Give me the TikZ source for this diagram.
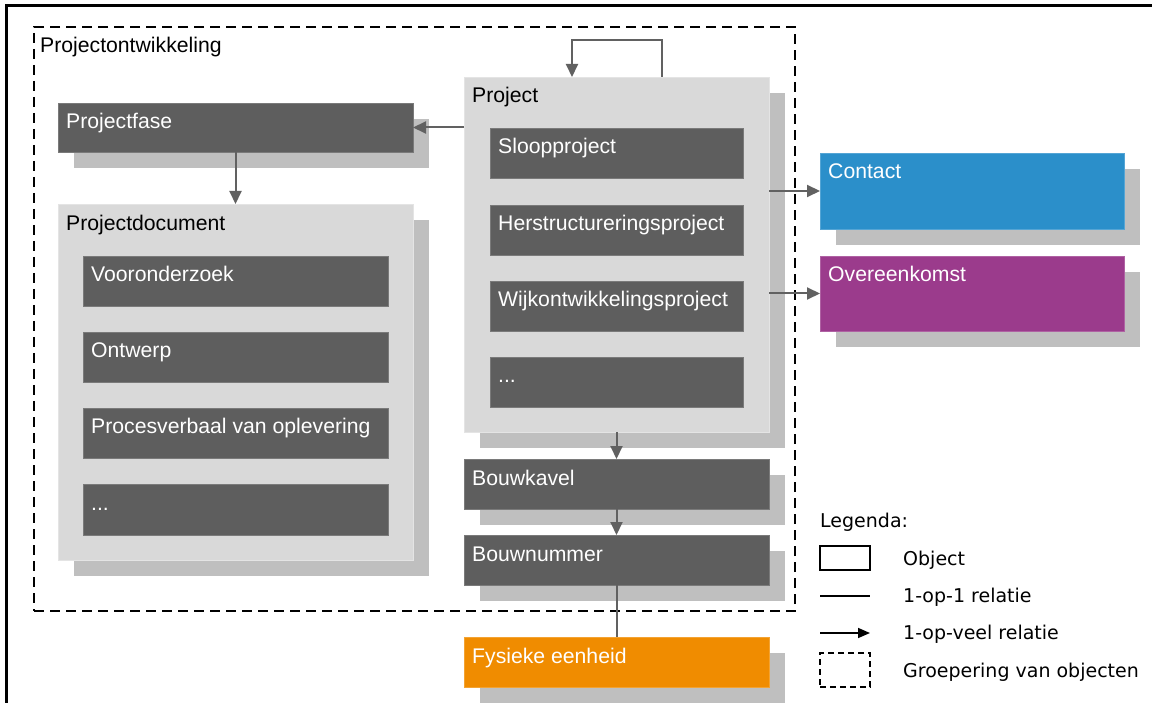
\documentclass[tikz,border=0pt]{standalone}
\usepackage{fontspec}
\setmainfont{Liberation Sans}
\newfontfamily\legendfont{DejaVu Sans}
\usetikzlibrary{arrows.meta,shadows,calc}

\definecolor{boxdark}{HTML}{5E5E5E}
\definecolor{boxdarkline}{HTML}{7A7A7A}
\definecolor{boxlight}{HTML}{D9D9D9}
\definecolor{boxlightline}{HTML}{E4E4E4}
\definecolor{shadowgray}{HTML}{BFBFBF}
\definecolor{contactblue}{HTML}{2B8FCA}
\definecolor{dealpurple}{HTML}{9B3B8C}
\definecolor{unitorange}{HTML}{F08C00}
\definecolor{linkgray}{HTML}{616161}

\tikzset{
  base/.style={rectangle, inner sep=0pt, outer sep=0pt, anchor=north west, line width=0.8pt},
  dropshade/.style={general shadow={fill=shadowgray, shadow xshift=16pt, shadow yshift=-16pt}},
  darkbox/.style={base, fill=boxdark, draw=boxdarkline},
  lightbox/.style={base, fill=boxlight, draw=boxlightline},
  colbox/.style={base, fill=#1, draw=#1!80!white},
  lbl/.style={anchor=base west, inner sep=0pt, font=\fontsize{21.2}{25}\selectfont},
  wlbl/.style={lbl, text=white},
  many/.style={draw=linkgray, line width=2pt, -{Triangle[length=13pt,width=12pt]}},
  one/.style={draw=linkgray, line width=2pt},
  group/.style={draw=black, line width=1.4pt, dash pattern=on 10pt off 6pt},
  legtxt/.style={anchor=base west, inner sep=0pt, font=\legendfont\fontsize{19}{22}\selectfont},
}

\begin{document}
\begin{tikzpicture}[x=1pt,y=-1pt]
\useasboundingbox (0,0) rectangle (1152,703);
\fill[white] (0,0) rectangle (1152,703);

% page frame
\coordinate (fr-bl) at (6,703);
\coordinate (fr-tl) at (6,6);
\coordinate (fr-tr) at (1152,6);
\draw[line width=3pt] (fr-bl) -- (fr-tl) -- (fr-tr);

% grouping: Projectontwikkeling
\node[base, group, minimum width=761pt, minimum height=584pt] (grp) at (34,27) {};
\node[lbl] (grp-t) at (40,53) {Projectontwikkeling};

% Projectfase
\node[darkbox, dropshade, minimum width=355pt, minimum height=49pt] (pf) at (58,103) {};
\node[wlbl] (pf-t) at ($(pf.north west)+(8,26)$) {Projectfase};

% Projectdocument with its kinds
\node[lightbox, dropshade, minimum width=355pt, minimum height=356pt] (pd) at (58,204) {};
\node[lbl] (pd-t) at ($(pd.north west)+(8,27)$) {Projectdocument};
\node[darkbox, minimum width=305pt, minimum height=50pt] (pd1) at (83,256) {};
\node[wlbl] (pd1-t) at ($(pd1.north west)+(8,26)$) {Vooronderzoek};
\node[darkbox, minimum width=305pt, minimum height=50pt] (pd2) at (83,332) {};
\node[wlbl] (pd2-t) at ($(pd2.north west)+(8,26)$) {Ontwerp};
\node[darkbox, minimum width=305pt, minimum height=50pt] (pd3) at (83,408) {};
\node[wlbl] (pd3-t) at ($(pd3.north west)+(8,26)$) {Procesverbaal van oplevering};
\node[darkbox, minimum width=305pt, minimum height=51pt] (pd4) at (83,484) {};
\node[wlbl] (pd4-t) at ($(pd4.north west)+(8,26)$) {...};

% Project with its kinds
\node[lightbox, dropshade, minimum width=305pt, minimum height=355pt] (pj) at (464,77) {};
\node[lbl] (pj-t) at ($(pj.north west)+(8,26)$) {Project};
\node[darkbox, minimum width=253pt, minimum height=50pt] (pj1) at (490,128) {};
\node[wlbl] (pj1-t) at ($(pj1.north west)+(8,26)$) {Sloopproject};
\node[darkbox, minimum width=253pt, minimum height=50pt] (pj2) at (490,205) {};
\node[wlbl] (pj2-t) at ($(pj2.north west)+(8,26)$) {Herstructureringsproject};
\node[darkbox, minimum width=253pt, minimum height=50pt] (pj3) at (490,281) {};
\node[wlbl] (pj3-t) at ($(pj3.north west)+(8,26)$) {Wijkontwikkelingsproject};
\node[darkbox, minimum width=253pt, minimum height=50pt] (pj4) at (490,357) {};
\node[wlbl] (pj4-t) at ($(pj4.north west)+(8,26)$) {...};

% Bouwkavel, Bouwnummer
\node[darkbox, dropshade, minimum width=305pt, minimum height=50pt] (bk) at (464,459) {};
\node[wlbl] (bk-t) at ($(bk.north west)+(8,26)$) {Bouwkavel};
\node[darkbox, dropshade, minimum width=305pt, minimum height=50pt] (bn) at (464,535) {};
\node[wlbl] (bn-t) at ($(bn.north west)+(8,26)$) {Bouwnummer};

% outside the group
\node[colbox=unitorange, dropshade, minimum width=305pt, minimum height=50pt] (fe) at (464,637) {};
\node[wlbl] (fe-t) at ($(fe.north west)+(8,26)$) {Fysieke eenheid};
\node[colbox=contactblue, dropshade, minimum width=304pt, minimum height=76pt] (ct) at (820,153) {};
\node[wlbl] (ct-t) at ($(ct.north west)+(8,26)$) {Contact};
\node[colbox=dealpurple, dropshade, minimum width=304pt, minimum height=75pt] (ok) at (820,256) {};
\node[wlbl] (ok-t) at ($(ok.north west)+(8,26)$) {Overeenkomst};

% relations
\draw[many] ([xshift=45.5pt]pj.north) -- ++(0,-37) -| ([xshift=-44.5pt]pj.north);
\draw[many] (pj.west |- pf.east) -- (pf.east);
\draw[many] (pf.south) -- (pd.north);
\draw[many] (pj.south) -- (bk.north);
\draw[many] (bk.south) -- (bn.north);
\draw[one] (bn.south) -- (fe.north);
\draw[many] (pj.east |- ct.west) -- (ct.west);
\draw[many] (pj.east |- ok.west) -- (ok.west);

% legend
\node[legtxt] (lg-t) at (820,527) {Legenda:};
\node[base, draw=black, line width=1.6pt, minimum width=50pt, minimum height=24pt] (lg-obj) at (820,546) {};
\node[legtxt] (lg-obj-t) at (903,565) {Object};
\coordinate (lg-a1) at (820,596);
\coordinate (lg-b1) at (870,596);
\draw[line width=1.6pt] (lg-a1) -- (lg-b1);
\node[legtxt] (lg-one-t) at (903,602) {1-op-1 relatie};
\coordinate (lg-a2) at (820,633);
\coordinate (lg-b2) at (870,633);
\draw[line width=1.6pt, -{Triangle[length=12pt,width=10pt]}] (lg-a2) -- (lg-b2);
\node[legtxt] (lg-many-t) at (903,639) {1-op-veel relatie};
\node[base, draw=black, line width=1.6pt, dash pattern=on 6pt off 4pt, minimum width=50pt, minimum height=34pt] (lg-grp) at (820,653) {};
\node[legtxt] (lg-grp-t) at (903,677) {Groepering van objecten};
\end{tikzpicture}
\end{document}
